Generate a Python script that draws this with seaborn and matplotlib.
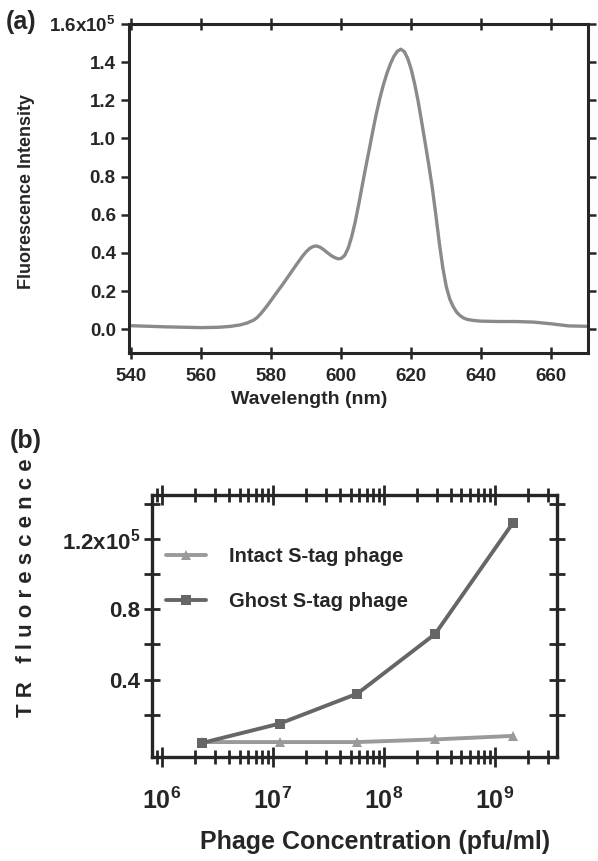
import numpy as np
import pandas as pd
import matplotlib
matplotlib.use("Agg")
import matplotlib.pyplot as plt
import seaborn as sns
from matplotlib.ticker import LogLocator, NullFormatter

# (a) emission spectrum, intensity in units of 1e5
wavelength = [540, 545, 550, 555, 560, 565, 568, 571, 573, 575, 576, 577, 578, 579,
              580, 581, 582, 583, 584, 585, 586, 587, 588, 589, 590, 591, 592, 593,
              594, 595, 596, 597, 598, 599, 600, 601, 602, 603, 604, 605, 606, 607,
              608, 609, 610, 611, 612, 613, 614, 615, 616, 617, 618, 619, 620, 621,
              622, 623, 624, 625, 626, 627, 628, 629, 630, 631, 632, 633, 634, 635,
              636, 638, 640, 645, 650, 655, 660, 665, 670]
intensity = [0.018, 0.015, 0.012, 0.010, 0.008, 0.010, 0.014, 0.022, 0.032, 0.048,
             0.062, 0.082, 0.104, 0.128, 0.153, 0.179, 0.204, 0.229, 0.255, 0.281,
             0.308, 0.334, 0.360, 0.385, 0.407, 0.424, 0.434, 0.436, 0.429, 0.416,
             0.401, 0.387, 0.376, 0.369, 0.371, 0.388, 0.427, 0.488, 0.566, 0.658,
             0.756, 0.852, 0.945, 1.040, 1.130, 1.210, 1.280, 1.340, 1.390, 1.430,
             1.457, 1.468, 1.455, 1.418, 1.360, 1.282, 1.190, 1.082, 0.972, 0.860,
             0.740, 0.600, 0.452, 0.322, 0.222, 0.157, 0.117, 0.088, 0.070, 0.058,
             0.051, 0.045, 0.042, 0.040, 0.040, 0.037, 0.028, 0.017, 0.015]

# (b) TR fluorescence vs phage concentration
phage_conc = [2.3e6, 1.15e7, 5.75e7, 2.9e8, 1.45e9]
intact = [4500, 4500, 4500, 6000, 8000]
ghost = [4000, 15000, 32000, 66000, 129000]

sns.set_style("ticks")
plt.rcParams['font.family'] = ['Liberation Sans', 'DejaVu Sans']
plt.rcParams['font.weight'] = 'bold'
plt.rcParams['mathtext.fontset'] = 'custom'
plt.rcParams['mathtext.rm'] = 'Liberation Sans:bold'
plt.rcParams['mathtext.bf'] = 'Liberation Sans:bold'
plt.rcParams['mathtext.it'] = 'Liberation Sans:bold'

fig = plt.figure(figsize=(5.98, 8.61), dpi=100)
ax1 = fig.add_axes([129/598, 1-353/861, (588-129)/598, (353-24)/861])
ax2 = fig.add_axes([152/598, 1-757/861, (557-152)/598, (757-495)/861])

# ---- panel (a)
df_a = pd.DataFrame({'wl': wavelength, 'I': np.array(intensity) * 1e5})
sns.lineplot(data=df_a, x='wl', y='I', ax=ax1, color='#8a8a8a', lw=2.4)
ax1.set_xlim(539.3, 670.5)
ax1.set_ylim(-0.125e5, 1.6e5)
ax1.set_xticks(range(540, 661, 20))
yt = np.arange(0, 1.61, 0.2) * 1e5
ax1.set_yticks(yt)
ax1.set_yticklabels(['0.0', '0.2', '0.4', '0.6', '0.8', '1.0', '1.2', '1.4',
                     r'1.6x10$^{5}$'])
ax1.get_yticklabels()[-1].set_fontsize(11)
ax1.tick_params(axis='x', which='both', direction='inout', length=9, width=1.8,
                labelsize=13.5, top=True, pad=6)
ax1.tick_params(axis='y', which='both', direction='out', length=6, width=1.8,
                labelsize=13.5, right=True)
for s in ax1.spines.values():
    s.set_linewidth(2.2)
ax1.set_xlabel('Wavelength (nm)', fontsize=14, fontweight='bold')
ax1.xaxis.set_label_coords(0.392, -0.115)
ax1.set_ylabel('Fluorescence Intensity', fontsize=13, fontweight='bold')
ax1.yaxis.set_label_coords(-0.205, 0.49)
fig.text(6/598, 1-22/861, '(a)', fontsize=18, fontweight='bold', va='center')

# ---- panel (b)
df_b = pd.DataFrame({'conc': phage_conc * 2,
                     'val': intact + ghost,
                     'kind': ['Intact S-tag phage'] * 5 + ['Ghost S-tag phage'] * 5})
sns.lineplot(data=df_b, x='conc', y='val', hue='kind', style='kind', ax=ax2,
             palette=['#9a9a9a', '#666666'], markers=['^', 's'], dashes=False,
             lw=2.8, markersize=7.5, markeredgewidth=0)
ax2.set_xscale('log')
ax2.set_xlim(10**5.91, 10**9.56)
ax2.set_ylim(-0.04e5, 1.45e5)
ax2.xaxis.set_minor_locator(LogLocator(base=10, subs=np.arange(2, 10), numticks=10))
ax2.xaxis.set_minor_formatter(NullFormatter())
ax2.set_xticks([1e6, 1e7, 1e8, 1e9])
ax2.set_xticklabels([r'10$^{6}$', r'10$^{7}$', r'10$^{8}$', r'10$^{9}$'])
ax2.set_yticks(np.arange(0.2, 1.41, 0.2) * 1e5)
ax2.set_yticklabels(['', '0.4', '', '0.8', '', r'1.2x10$^{5}$', ''])
ax2.tick_params(axis='x', which='major', direction='inout', length=14, width=2,
                labelsize=18, top=True, pad=15)
ax2.tick_params(axis='x', which='minor', direction='inout', length=10, width=2,
                top=True)
ax2.tick_params(axis='y', which='both', direction='inout', length=11, width=2,
                labelsize=16, right=True, pad=3)
for s in ax2.spines.values():
    s.set_linewidth(2.4)
ax2.set_xlabel('Phage Concentration (pfu/ml)', fontsize=18, fontweight='bold')
ax2.xaxis.set_label_coords(0.55, -0.28)
ax2.set_ylabel('T R   f l u o r e s c e n c e', fontsize=16, fontweight='bold')
ax2.yaxis.set_label_coords(-0.285, 0.645)
leg = ax2.legend(loc='upper left', bbox_to_anchor=(-0.01, 0.87), frameon=False,
                 fontsize=14.5, labelspacing=1.3, handlelength=2.0, handletextpad=1.1)
fig.text(10/598, 1-441/861, '(b)', fontsize=18, fontweight='bold', va='center')

fig.savefig('out.png', dpi=100)
